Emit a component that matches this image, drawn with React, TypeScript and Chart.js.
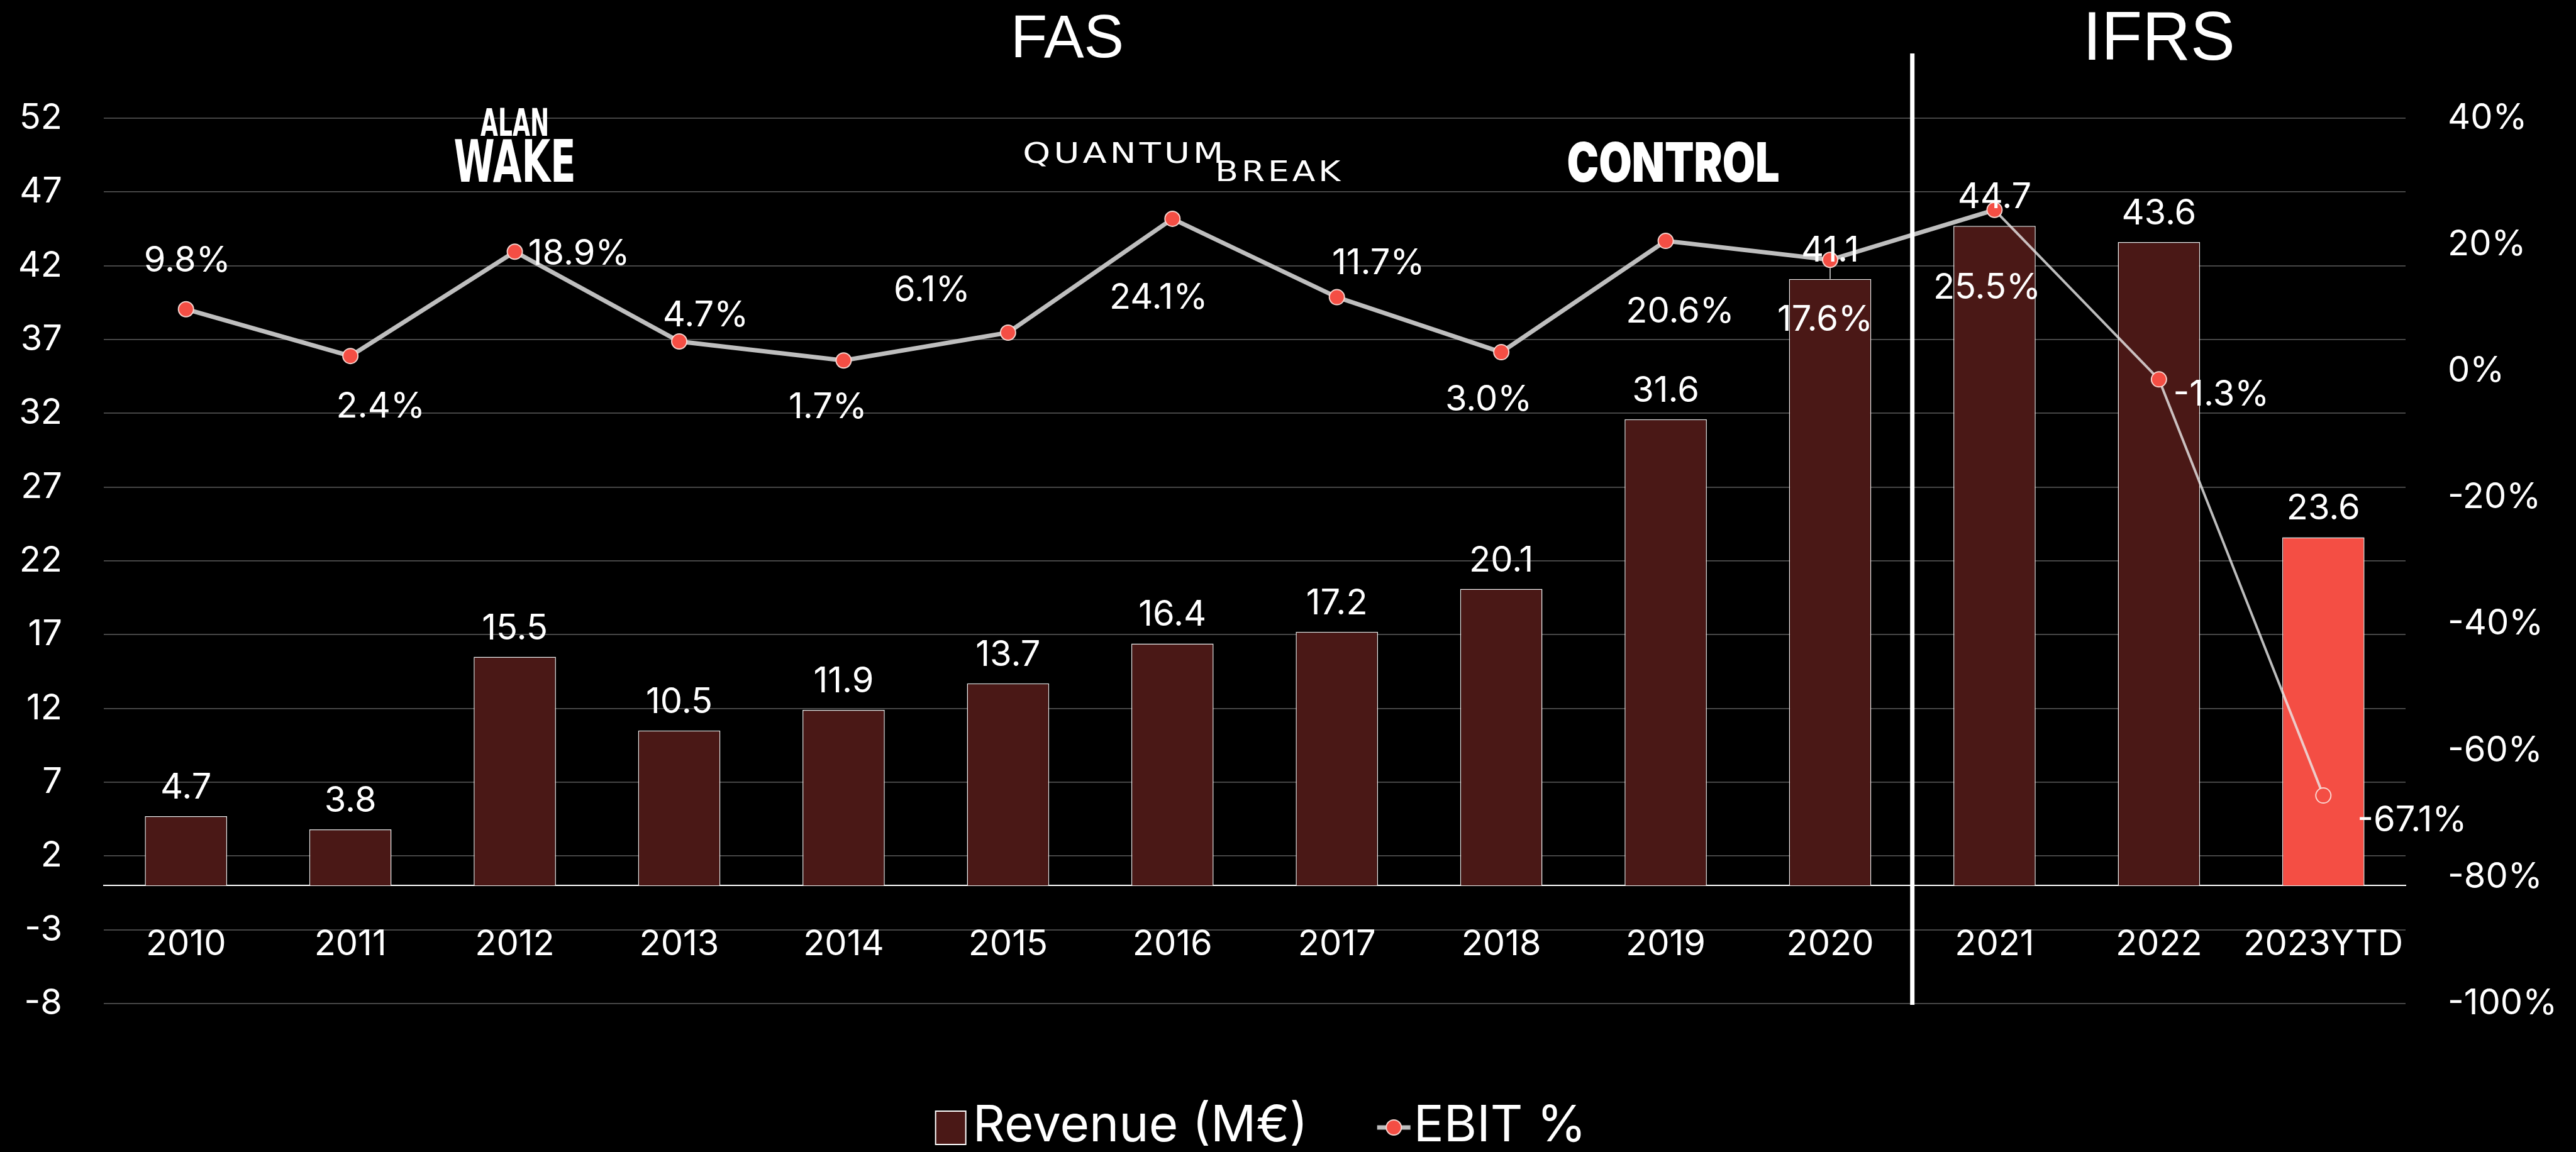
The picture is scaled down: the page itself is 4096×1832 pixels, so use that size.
import React, { useEffect, useRef } from 'react';
import { Chart, registerables } from 'chart.js';

Chart.register(...registerables);

// ---------- data ----------
const categories = ['2010', '2011', '2012', '2013', '2014', '2015', '2016', '2017', '2018', '2019', '2020', '2021', '2022', '2023YTD'];
const revenue = [4.7, 3.8, 15.5, 10.5, 11.9, 13.7, 16.4, 17.2, 20.1, 31.6, 41.1, 44.7, 43.6, 23.6];
const ebitPercent = [9.8, 2.4, 18.9, 4.7, 1.7, 6.1, 24.1, 11.7, 3.0, 20.6, 17.6, 25.5, -1.3, -67.1];
const revenueTicks = [-8, 52, 5]; // min, max, step
const ebitTicks = [-100, 40, 20]; // min, max, step
const seriesNames = ['Revenue (M€)', 'EBIT %'];
const sectionTitles = ['FAS', 'IFRS'];
const firstIfrsYear = '2021';
const highlightedCategory = '2023YTD';
const leaderLineCategories = ['2020'];

// ---------- styling ----------
const FONT = 'Inter, "Noto Sans", sans-serif';
const BAR_COLOR = '#4A1816';
const HIGHLIGHT_COLOR = '#F44E44';
const LINE_COLOR = '#BEBEBE';
const THIN_LINE_COLOR = 'rgba(235,235,235,0.8)';
const POINT_BORDER = 'rgba(250,220,215,0.95)';
const GRID_COLOR = '#505050';
// label offsets (dx, dy in px) of each EBIT % label from its point
const ebitLabelOffsets: [number, number][] = [
  [2, -77], [48, 81], [102, 4], [42, -41], [-25, 75], [-121, -67], [-22, 126],
  [66, -53], [-20, 76], [23, 113], [-8, 96], [-12, 124], [99, 25], [141, 40],
];
// section title anchors, in category units
const sectionAnchors = [5.36, 12];

function drawStretched(ctx: CanvasRenderingContext2D, text: string, x0: number, x1: number, baseline: number, spacing: number) {
  const chars = [...text];
  const widths = chars.map((c) => ctx.measureText(c).width);
  const natural = widths.reduce((a, b) => a + b, 0) + spacing * (chars.length - 1);
  const sx = (x1 - x0) / natural;
  ctx.save();
  ctx.translate(x0, baseline);
  ctx.scale(sx, 1);
  ctx.textAlign = 'left';
  let x = 0;
  chars.forEach((c, i) => {
    ctx.fillText(c, x, 0);
    x += widths[i] + spacing;
  });
  ctx.restore();
}

const overlayPlugin = {
  id: 'overlay',
  afterDatasetsDraw(chart: any) {
    const ctx: CanvasRenderingContext2D = chart.ctx;
    const xs = chart.scales.x;
    const area = chart.chartArea;
    ctx.save();

    // separator FAS | IFRS
    const sepIdx = categories.indexOf(firstIfrsYear);
    const sx = (xs.getPixelForValue(sepIdx - 1) + xs.getPixelForValue(sepIdx)) / 2;
    ctx.strokeStyle = '#FFFFFF';
    ctx.lineWidth = 7;
    ctx.beginPath();
    ctx.moveTo(sx, 85);
    ctx.lineTo(sx, area.bottom + 2);
    ctx.stroke();

    const lineMeta = chart.getDatasetMeta(0);
    const barMeta = chart.getDatasetMeta(1);

    // leader lines
    ctx.strokeStyle = '#E0E0E0';
    ctx.lineWidth = 1.5;
    leaderLineCategories.forEach((c) => {
      const i = categories.indexOf(c);
      const p = lineMeta.data[i];
      const b = barMeta.data[i];
      ctx.beginPath();
      ctx.moveTo(p.x, p.y + 13);
      ctx.lineTo(p.x, b.y);
      ctx.stroke();
    });

    ctx.fillStyle = '#FFFFFF';
    ctx.font = `56px ${FONT}`;
    ctx.textAlign = 'center';
    ctx.textBaseline = 'alphabetic';
    barMeta.data.forEach((el: any, i: number) => {
      ctx.fillText(revenue[i].toFixed(1), el.x, el.y - 28);
    });

    ctx.textBaseline = 'middle';
    lineMeta.data.forEach((pt: any, i: number) => {
      const [dx, dy] = ebitLabelOffsets[i];
      ctx.fillText(`${ebitPercent[i].toFixed(1)}%`, pt.x + dx, pt.y + dy);
    });
    ctx.restore();
  },
  afterDraw(chart: any) {
    const ctx: CanvasRenderingContext2D = chart.ctx;
    const xs = chart.scales.x;
    const area = chart.chartArea;
    const px = (c: string) => xs.getPixelForValue(categories.indexOf(c));
    ctx.save();
    ctx.fillStyle = '#FFFFFF';
    ctx.textBaseline = 'alphabetic';
    ctx.textAlign = 'center';

    // section titles
    ctx.font = '97px "Liberation Sans", Arial, sans-serif';
    ctx.fillText(sectionTitles[0], xs.getPixelForValue(sectionAnchors[0]), 91, 180);
    ctx.font = '110px "Liberation Sans", Arial, sans-serif';
    ctx.fillText(sectionTitles[1], xs.getPixelForValue(sectionAnchors[1]), 95, 242);

    // game logos (typographic)
    const aw = px('2012');
    ctx.font = 'bold 60px "Liberation Sans Narrow", "DejaVu Sans Condensed", sans-serif';
    ctx.fillText('ALAN', aw, 216, 109);
    ctx.font = 'bold 92px "Liberation Sans Narrow", "DejaVu Sans Condensed", sans-serif';
    ctx.fillText('WAKE', aw, 289, 194);

    const qb = px('2016');
    ctx.font = '44px "DejaVu Sans", sans-serif';
    drawStretched(ctx, 'QUANTUM', qb - 238, qb + 81, 259, 4);
    drawStretched(ctx, 'BREAK', qb + 68, qb + 267, 288, 4);

    const ct = px('2019');
    ctx.textAlign = 'center';
    ctx.font = `900 87px ${FONT}`;
    ctx.fillText('CONTROL', ct + 12, 289, 338);

    // legend
    const cy = chart.height - 39;
    const base = chart.height - 17;
    ctx.font = `80px ${FONT}`;
    const t1 = chart.data.datasets[1].label;
    const t2 = chart.data.datasets[0].label;
    const w1 = ctx.measureText(t1).width;
    const w2 = ctx.measureText(t2).width;
    const total = 48 + 11 + w1 + 110 + 53 + 5 + w2;
    let lx = (area.left + area.right) / 2 - total / 2 + 10;
    ctx.fillStyle = BAR_COLOR;
    ctx.fillRect(lx, cy - 26, 48, 53);
    ctx.strokeStyle = '#FFFFFF';
    ctx.lineWidth = 2;
    ctx.strokeRect(lx, cy - 26, 48, 53);
    lx += 48 + 11;
    ctx.fillStyle = '#FFFFFF';
    ctx.textAlign = 'left';
    ctx.fillText(t1, lx, base);
    lx += w1 + 110;
    ctx.strokeStyle = LINE_COLOR;
    ctx.lineWidth = 7;
    ctx.beginPath();
    ctx.moveTo(lx, cy);
    ctx.lineTo(lx + 53, cy);
    ctx.stroke();
    ctx.beginPath();
    ctx.arc(lx + 26.5, cy, 12, 0, Math.PI * 2);
    ctx.fillStyle = HIGHLIGHT_COLOR;
    ctx.fill();
    ctx.strokeStyle = POINT_BORDER;
    ctx.lineWidth = 2;
    ctx.stroke();
    lx += 53 + 5;
    ctx.fillStyle = '#FFFFFF';
    ctx.fillText(t2, lx, base);
    ctx.restore();
  },
};

export default function App() {
  const canvasRef = useRef<HTMLCanvasElement>(null);

  useEffect(() => {
    let chart: Chart | null = null;
    let cancelled = false;
    const fontsReady = (document as any).fonts
      ? Promise.all([
          (document as any).fonts.load('56px Inter'),
          (document as any).fonts.load('900 87px Inter'),
          (document as any).fonts.load('97px "Liberation Sans"'),
          (document as any).fonts.load('bold 60px "Liberation Sans Narrow"'),
          (document as any).fonts.load('44px "DejaVu Sans"'),
        ]).catch(() => undefined)
      : Promise.resolve();

    fontsReady.then(() => {
      if (cancelled || !canvasRef.current) return;
      const tickFont = { family: FONT, size: 56 };
      const thinFrom = categories.indexOf(firstIfrsYear);
      chart = new Chart(canvasRef.current, {
        type: 'bar',
        data: {
          labels: categories,
          datasets: [
            {
              type: 'line',
              label: seriesNames[1],
              data: ebitPercent,
              yAxisID: 'y1',
              order: 0,
              borderColor: LINE_COLOR,
              borderWidth: 7,
              tension: 0,
              pointRadius: 12,
              pointBorderWidth: 2,
              pointBackgroundColor: HIGHLIGHT_COLOR,
              pointBorderColor: POINT_BORDER,
              segment: {
                borderWidth: (c: any) => (c.p0DataIndex >= thinFrom ? 4 : 7),
                borderColor: (c: any) => (c.p0DataIndex >= thinFrom ? THIN_LINE_COLOR : LINE_COLOR),
              },
            } as any,
            {
              type: 'bar',
              label: seriesNames[0],
              data: revenue,
              yAxisID: 'y',
              order: 1,
              backgroundColor: (c: any) => (categories[c.dataIndex] === highlightedCategory ? HIGHLIGHT_COLOR : BAR_COLOR),
              borderColor: '#EDEDED',
              borderWidth: 1.5,
              barPercentage: 0.5,
              categoryPercentage: 1,
            } as any,
          ],
        },
        options: {
          responsive: false,
          maintainAspectRatio: false,
          devicePixelRatio: 1,
          animation: false,
          color: '#FFFFFF',
          layout: { padding: { top: 188, bottom: 236, left: 0, right: 0 } },
          plugins: {
            legend: { display: false },
            tooltip: { enabled: false },
            title: { display: false },
          },
          scales: {
            x: {
              type: 'category',
              position: { y: 0 } as any,
              offset: true,
              grid: { display: false, drawTicks: false },
              border: { display: true, color: '#FFFFFF', width: 2 },
              ticks: {
                color: '#FFFFFF',
                font: tickFont,
                padding: 60,
                maxRotation: 0,
                autoSkip: false,
              },
            },
            y: {
              type: 'linear',
              position: 'left',
              min: revenueTicks[0],
              max: revenueTicks[1],
              ticks: { stepSize: revenueTicks[2], color: '#FFFFFF', font: tickFont, padding: 66 },
              grid: { color: GRID_COLOR, lineWidth: 1.8, drawTicks: false },
              border: { display: false },
              afterFit: (s: any) => {
                s.width = 165;
              },
            },
            y1: {
              type: 'linear',
              position: 'right',
              min: ebitTicks[0],
              max: ebitTicks[1],
              ticks: {
                stepSize: ebitTicks[2],
                color: '#FFFFFF',
                font: tickFont,
                padding: 67,
                callback: (v: any) => `${v}%`,
              },
              grid: { display: false, drawTicks: false },
              border: { display: false },
              afterFit: (s: any) => {
                s.width = 271;
              },
            },
          },
        } as any,
        plugins: [overlayPlugin],
      });
    });

    return () => {
      cancelled = true;
      if (chart) chart.destroy();
    };
  }, []);

  return (
    <div style={{ position: 'fixed', left: 0, top: 0, width: 4096, height: 1832, background: '#000000', overflow: 'hidden' }}>
      <canvas ref={canvasRef} width={4096} height={1832} style={{ display: 'block', width: 4096, height: 1832 }} />
    </div>
  );
}
